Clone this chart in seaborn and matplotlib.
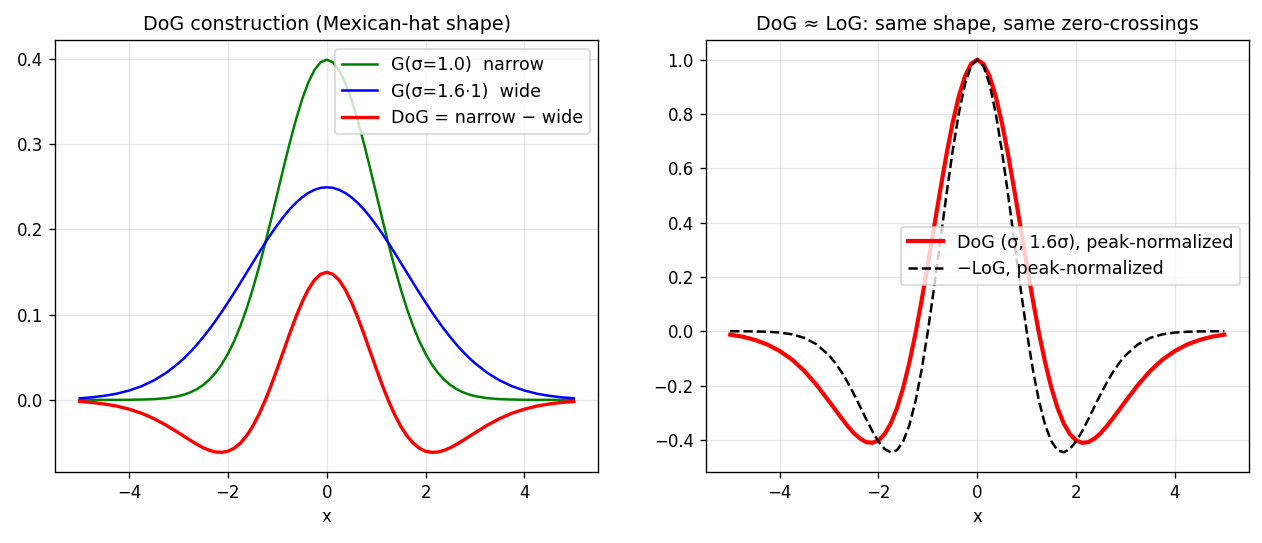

import matplotlib.pyplot as plt
import seaborn as sns

x = [-5.0, -4.75, -4.5, -4.25, -4.0, -3.75, -3.5, -3.25, -3.0,
     -2.875, -2.75, -2.625, -2.5, -2.375, -2.25, -2.125, -2.0,
     -1.875, -1.75, -1.625, -1.5, -1.375, -1.25, -1.125, -1.0,
     -0.875, -0.75, -0.625, -0.5, -0.375, -0.25, -0.125, 0.0,
     0.125, 0.25, 0.375, 0.5, 0.625, 0.75, 0.875, 1.0,
     1.125, 1.25, 1.375, 1.5, 1.625, 1.75, 1.875, 2.0,
     2.125, 2.25, 2.375, 2.5, 2.625, 2.75, 2.875,
     3.0, 3.25, 3.5, 3.75, 4.0, 4.25, 4.5, 4.75, 5.0]

g_narrow = [0.0000, 0.0000, 0.0000, 0.0000, 0.0001, 0.0004, 0.0009, 0.0020, 0.0044,
            0.0064, 0.0091, 0.0127, 0.0175, 0.0238, 0.0317, 0.0417, 0.0540,
            0.0688, 0.0863, 0.1065, 0.1295, 0.1550, 0.1826, 0.2119, 0.2420,
            0.2721, 0.3011, 0.3282, 0.3521, 0.3719, 0.3867, 0.3958, 0.3989,
            0.3958, 0.3867, 0.3719, 0.3521, 0.3282, 0.3011, 0.2721, 0.2420,
            0.2119, 0.1826, 0.1550, 0.1295, 0.1065, 0.0863, 0.0688, 0.0540,
            0.0417, 0.0317, 0.0238, 0.0175, 0.0127, 0.0091, 0.0064,
            0.0044, 0.0020, 0.0009, 0.0004, 0.0001, 0.0000, 0.0000, 0.0000, 0.0000]

g_wide = [0.0019, 0.0030, 0.0048, 0.0073, 0.0110, 0.0160, 0.0228, 0.0317, 0.0430,
          0.0496, 0.0569, 0.0649, 0.0736, 0.0829, 0.0928, 0.1032, 0.1142,
          0.1255, 0.1371, 0.1489, 0.1607, 0.1724, 0.1838, 0.1947, 0.2051,
          0.2147, 0.2234, 0.2310, 0.2375, 0.2426, 0.2463, 0.2486, 0.2493,
          0.2486, 0.2463, 0.2426, 0.2375, 0.2310, 0.2234, 0.2147, 0.2051,
          0.1947, 0.1838, 0.1724, 0.1607, 0.1489, 0.1371, 0.1255, 0.1142,
          0.1032, 0.0928, 0.0829, 0.0736, 0.0649, 0.0569, 0.0496,
          0.0430, 0.0317, 0.0228, 0.0160, 0.0110, 0.0073, 0.0048, 0.0030, 0.0019]

dog = [-0.0019, -0.0030, -0.0048, -0.0073, -0.0109, -0.0156, -0.0219, -0.0297, -0.0386,
       -0.0432, -0.0478, -0.0522, -0.0561, -0.0591, -0.0611, -0.0615, -0.0602,
       -0.0567, -0.0508, -0.0423, -0.0312, -0.0173, -0.0012, 0.0172, 0.0369,
       0.0573, 0.0777, 0.0971, 0.1146, 0.1293, 0.1404, 0.1473, 0.1496,
       0.1473, 0.1404, 0.1293, 0.1146, 0.0971, 0.0777, 0.0573, 0.0369,
       0.0172, -0.0012, -0.0173, -0.0312, -0.0423, -0.0508, -0.0567, -0.0602,
       -0.0615, -0.0611, -0.0591, -0.0561, -0.0522, -0.0478, -0.0432,
       -0.0386, -0.0297, -0.0219, -0.0156, -0.0109, -0.0073, -0.0048, -0.0030, -0.0019]

dog_norm = [-0.0127, -0.0201, -0.0321, -0.0488, -0.0729, -0.1043, -0.1464, -0.1985, -0.2580,
            -0.2889, -0.3195, -0.3489, -0.3750, -0.3950, -0.4084, -0.4111, -0.4024,
            -0.3789, -0.3396, -0.2830, -0.2086, -0.1159, -0.0080, 0.1146, 0.2467,
            0.3833, 0.5194, 0.6493, 0.7660, 0.8640, 0.9385, 0.9844, 1.0000,
            0.9844, 0.9385, 0.8640, 0.7660, 0.6493, 0.5194, 0.3833, 0.2467,
            0.1146, -0.0080, -0.1159, -0.2086, -0.2830, -0.3396, -0.3789, -0.4024,
            -0.4111, -0.4084, -0.3950, -0.3750, -0.3489, -0.3195, -0.2889,
            -0.2580, -0.1985, -0.1464, -0.1043, -0.0729, -0.0488, -0.0321, -0.0201, -0.0127]

neg_log = [-0.0001, -0.0003, -0.0008, -0.0020, -0.0050, -0.0115, -0.0246, -0.0487, -0.0889,
           -0.1165, -0.1496, -0.1879, -0.2307, -0.2765, -0.3232, -0.3677, -0.4060,
           -0.4338, -0.4461, -0.4381, -0.4058, -0.3461, -0.2575, -0.1411, 0.0000,
           0.1598, 0.3302, 0.5013, 0.6619, 0.8010, 0.9087, 0.9767, 1.0000,
           0.9767, 0.9087, 0.8010, 0.6619, 0.5013, 0.3302, 0.1598, 0.0000,
           -0.1411, -0.2575, -0.3461, -0.4058, -0.4381, -0.4461, -0.4338, -0.4060,
           -0.3677, -0.3232, -0.2765, -0.2307, -0.1879, -0.1496, -0.1165,
           -0.0889, -0.0487, -0.0246, -0.0115, -0.0050, -0.0020, -0.0008, -0.0003, -0.0001]

fig, (ax1, ax2) = plt.subplots(1, 2, figsize=(1262 / 120, 543 / 120), dpi=120)
fig.subplots_adjust(left=0.0436, right=0.9897, top=0.9263, bottom=0.1308, wspace=0.197)

# left panel
sns.lineplot(x=x, y=g_narrow, ax=ax1, color='green', lw=1.5, label='G(σ=1.0)  narrow')
sns.lineplot(x=x, y=g_wide, ax=ax1, color='blue', lw=1.5, label='G(σ=1.6·1)  wide')
sns.lineplot(x=x, y=dog, ax=ax1, color='red', lw=2, label='DoG = narrow − wide')
ax1.set_title('DoG construction (Mexican-hat shape)', fontsize=11.5)
ax1.set_xlabel('x')
ax1.grid(alpha=0.3)
ax1.legend(loc='upper right', fontsize=10.5)

# right panel
sns.lineplot(x=x, y=dog_norm, ax=ax2, color='red', lw=2.5, label='DoG (σ, 1.6σ), peak-normalized')
sns.lineplot(x=x, y=neg_log, ax=ax2, color='black', lw=1.5, linestyle='--', label='−LoG, peak-normalized')
ax2.set_title('DoG ≈ LoG: same shape, same zero-crossings', fontsize=11.5)
ax2.set_xlabel('x')
ax2.grid(alpha=0.3)
ax2.legend(loc='center right', fontsize=10.5)

fig.savefig('out.png', dpi=120)
